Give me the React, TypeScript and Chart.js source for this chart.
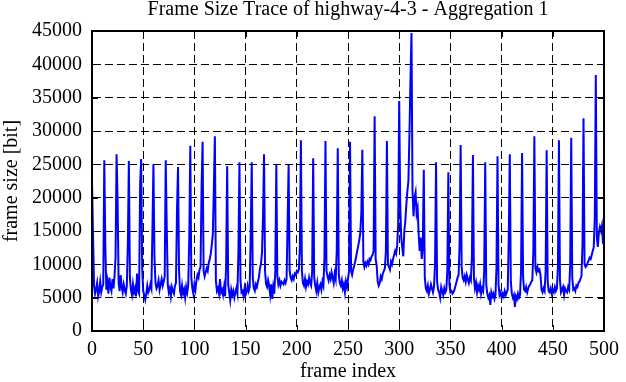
import React, { useEffect, useRef } from "react";
import { Chart, registerables } from "chart.js";

Chart.register(...registerables);

const TITLE = "Frame Size Trace of highway-4-3 - Aggregation 1";
const X_LABEL = "frame index";
const Y_LABEL = "frame size [bit]";
const X_TICKS = [0, 50, 100, 150, 200, 250, 300, 350, 400, 450, 500];
const Y_TICKS = [0, 5000, 10000, 15000, 20000, 25000, 30000, 35000, 40000, 45000];

// frame sizes in bit, frames 0..500
const frames000to099 = [
  22500, 14500, 6800, 5600, 6300, 7200, 5200, 6000, 7400, 5800, 6600, 7000,
  25600, 13000, 6200, 7400, 5600, 8000, 6600, 6000, 7800, 6400, 8200, 11000,
  26500, 19500, 7200, 6000, 8400, 6600, 5800, 7000, 6200, 5600, 6800, 13000,
  25500, 8000, 6200, 5400, 7000, 5800, 6400, 5200, 8600, 6000, 5600, 22000,
  25800, 9500, 6000, 5400, 4700, 5600, 6800, 5800, 6200, 7000, 6400, 15000,
  25000, 11000, 7200, 6400, 6800, 7600, 6200, 7000, 7800, 6800, 7400, 8200,
  25600, 15500, 7000, 5800, 6400, 5200, 6600, 6000, 5600, 6800, 7200, 18000,
  24600, 9000, 6000, 5400, 6800, 5600, 6200, 5000, 6600, 5800, 7000, 14000,
  27800, 8000, 6400, 5600,
];
const frames100to199 = [
  7000, 6200, 7600, 8400, 8000, 9200, 9600, 21500,
  28400, 9000, 8200, 8800, 9400, 9000, 10200, 10800, 11600, 13000, 14500, 21500,
  29200, 7500, 6000, 6400, 5600, 7800, 5800, 6200, 5400, 6600, 5200, 10000,
  24700, 7000, 5800, 4600, 6200, 5400, 6000, 5000, 5800, 6400, 5600, 12000,
  25300, 7600, 5800, 6000, 5200, 6400, 5400, 5800, 6800, 6000, 6600, 14500,
  25300, 8000, 6400, 6000, 7000, 6600, 7400, 8000, 9400, 10000, 11800, 17000,
  26500, 9000, 7000, 6600, 7600, 6800, 5400, 7000, 4800, 6600, 5600, 9000,
  25000, 8200, 7000, 7600, 6800, 7400, 7200, 7000, 7600, 7200, 7800, 16000,
  24900, 9000, 8000, 7600, 8200, 7800, 8600, 8400,
];
const frames200to299 = [
  9000, 8800, 9200, 12500,
  28600, 9000, 7200, 6800, 7800, 6600, 7400, 7000, 8000, 7200, 6800, 9000,
  25900, 8000, 6800, 6000, 7200, 5800, 6600, 7000, 6200, 7400, 6800, 11000,
  28500, 9000, 8200, 7600, 8400, 7800, 8800, 8000, 7200, 8600, 7800, 12000,
  27400, 8400, 7200, 6800, 7600, 6400, 7000, 5800, 7400, 6600, 7800, 9000,
  28400, 9000, 8400, 9200, 9800, 10400, 11200, 12000, 12800, 13600, 14700, 17700,
  27200, 10400, 9600, 10200, 9800, 10400, 10000, 10800, 10600, 11200, 11400, 12000,
  32200, 10800, 9800, 7400, 6800, 7200, 8200, 7800, 8600, 9000, 9400, 12000,
  28500, 10000, 9600, 9200, 10400, 10000, 10800, 11400, 12000, 11600, 12800, 16000,
];
const frames300to399 = [
  34500, 19000, 14000, 12500, 11200, 15000, 16500, 19000, 21000, 22500, 29500, 37500,
  44700, 21000, 17200, 20000, 20800, 17600, 18400, 14500, 12000, 14000, 10800, 12500,
  24200, 8000, 6400, 6000, 6800, 5600, 6200, 7000, 6400, 5800, 6600, 10000,
  25300, 7400, 6200, 5800, 5000, 6600, 6000, 5400, 6400, 5800, 6200, 9000,
  23800, 7000, 5800, 6000, 5600, 5800, 6200, 6800, 7400, 8000, 8400, 13000,
  27900, 9600, 8000, 7600, 8200, 7400, 8400, 7800, 7200, 8000, 7600, 11000,
  26400, 8000, 6400, 7200, 5800, 6800, 6200, 7000, 5600, 6400, 6000, 9000,
  25300, 7000, 5600, 5000, 5400, 3900, 5800, 5200, 5600, 4800, 5400, 9500,
  26200, 7000, 5400, 5800,
];
const frames400to500 = [
  5000, 5600, 5200, 6000, 5400, 5800, 6200, 14000,
  26500, 7400, 5600, 5000, 5400, 3600, 5200, 4800, 5600, 5000, 5400, 9000,
  26700, 8000, 6200, 6000, 6600, 5800, 6400, 6800, 7000, 7400, 7600, 12000,
  29200, 9400, 8800, 9600, 9000, 9200, 8400, 6200, 5800, 6400, 6000, 9000,
  27100, 7400, 6000, 5800, 6400, 5600, 6200, 5800, 6600, 6000, 6400, 9500,
  28600, 7600, 5800, 6200, 6600, 5400, 6400, 6000, 5800, 6600, 6200, 10000,
  29000, 8000, 6200, 6400, 6000, 6800, 6600, 7200, 7400, 7800, 8200, 13000,
  31900, 10000, 9600, 9800, 10200, 10600, 11000, 10800, 11400, 12000, 12600, 17000,
  38400, 14000, 12600, 14800, 15600, 15000, 15800, 13200, 13000,
];

const frameSizes = [
  ...frames000to099,
  ...frames100to199,
  ...frames200to299,
  ...frames300to399,
  ...frames400to500,
];

const FONT = "'Liberation Serif', 'Times New Roman', serif";

const gnuplotFrame = {
  id: "gnuplotFrame",
  afterDraw(chart: any) {
    const { ctx, chartArea } = chart;
    const { left, right, top, bottom } = chartArea;
    const xs = chart.scales.x;
    const ys = chart.scales.y;
    const L = 6;
    ctx.save();
    ctx.setLineDash([]);
    ctx.strokeStyle = "#000";
    ctx.lineWidth = 1;
    ctx.beginPath();
    xs.ticks.forEach((t: any) => {
      const px = Math.round(xs.getPixelForValue(t.value)) + 0.5;
      ctx.moveTo(px, bottom);
      ctx.lineTo(px, bottom - L);
      ctx.moveTo(px, top);
      ctx.lineTo(px, top + L);
    });
    ys.ticks.forEach((t: any) => {
      const py = Math.round(ys.getPixelForValue(t.value)) + 0.5;
      ctx.moveTo(left, py);
      ctx.lineTo(left + L, py);
      ctx.moveTo(right, py);
      ctx.lineTo(right - L, py);
    });
    ctx.stroke();
    ctx.lineWidth = 2;
    ctx.strokeRect(left, top, right - left, bottom - top);
    ctx.restore();
  },
};

export default function App() {
  const ref = useRef<HTMLCanvasElement | null>(null);

  useEffect(() => {
    document.body.style.margin = "0";
    const canvas = ref.current;
    if (!canvas) return;
    const chart = new Chart(canvas, {
      type: "line",
      data: {
        datasets: [
          {
            data: frameSizes.map((v, i) => ({ x: i, y: v })),
            borderColor: "#0000ff",
            borderWidth: 2,
            pointRadius: 0,
            fill: false,
            tension: 0,
          },
        ],
      },
      options: {
        animation: false,
        responsive: false,
        devicePixelRatio: 1,
        layout: { padding: { left: 0, right: 17, top: 0, bottom: 0 } },
        plugins: {
          legend: { display: false },
          tooltip: { enabled: false },
          title: {
            display: true,
            fullSize: false,
            text: TITLE,
            color: "#000",
            font: { family: FONT, size: 20, weight: "normal", lineHeight: 1 },
            padding: { top: 0, bottom: 11 },
          },
        },
        scales: {
          x: {
            type: "linear",
            min: 0,
            max: 500,
            afterBuildTicks: (s: any) => {
              s.ticks = X_TICKS.map((v) => ({ value: v }));
            },
            afterFit: (s: any) => {
              s.height = 51;
            },
            ticks: {
              color: "#000",
              font: { family: FONT, size: 20 },
              padding: 7,
              maxRotation: 0,
              autoSkip: false,
            },
            grid: { color: "#000", lineWidth: 1, drawTicks: false },
            border: { display: true, color: "#000", width: 2, dash: [8, 4] },
            title: {
              display: true,
              text: X_LABEL,
              color: "#000",
              font: { family: FONT, size: 20, lineHeight: 1 },
              padding: { top: 0, bottom: 0 },
            },
          },
          y: {
            type: "linear",
            min: 0,
            max: 45000,
            afterBuildTicks: (s: any) => {
              s.ticks = Y_TICKS.map((v) => ({ value: v }));
            },
            afterFit: (s: any) => {
              s.width = 92;
            },
            ticks: {
              color: "#000",
              font: { family: FONT, size: 20 },
              padding: 10,
              autoSkip: false,
              callback: (v: any) => String(v),
            },
            grid: { color: "#000", lineWidth: 1, drawTicks: false },
            border: { display: true, color: "#000", width: 2, dash: [8, 4] },
            title: {
              display: true,
              text: Y_LABEL,
              color: "#000",
              font: { family: FONT, size: 20, lineHeight: 1 },
              padding: { top: 2, bottom: 0 },
            },
          },
        },
      },
      plugins: [gnuplotFrame],
    });
    return () => chart.destroy();
  }, []);

  return (
    <div style={{ position: "absolute", left: 0, top: 0, width: 626, height: 382 }}>
      <canvas ref={ref} width={626} height={382} style={{ display: "block", width: 626, height: 382 }} />
    </div>
  );
}
